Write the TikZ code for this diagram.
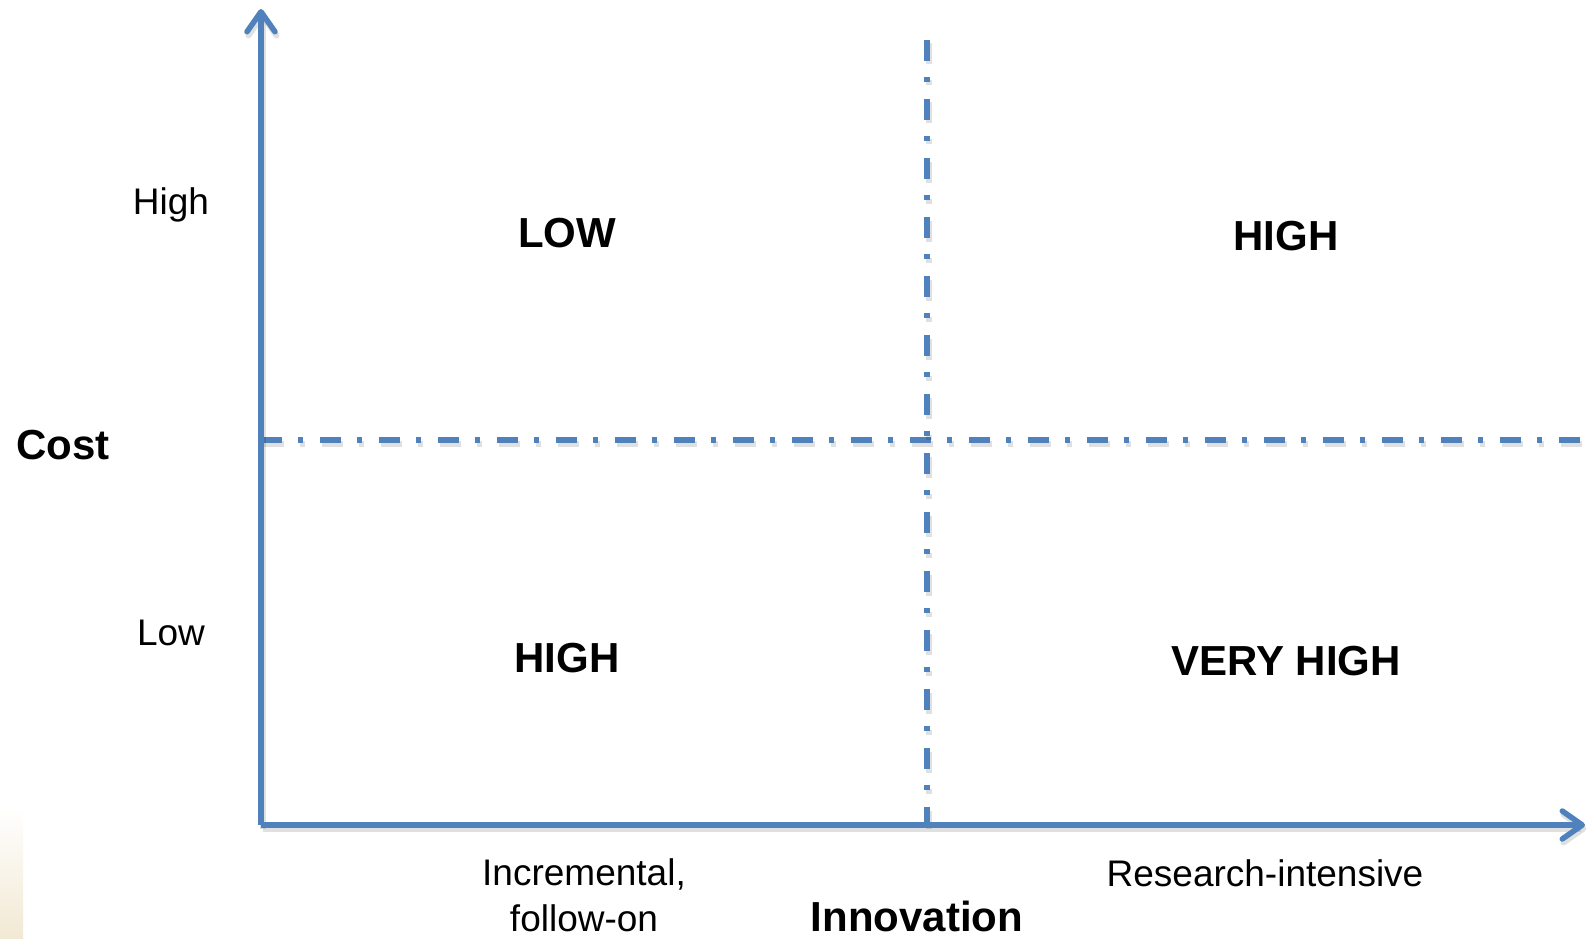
\documentclass[tikz,border=0pt]{standalone}
\usepackage{fontspec}
\setmainfont{Liberation Sans}
\usetikzlibrary{arrows.meta}
\definecolor{axisblue}{RGB}{79,129,189}
\definecolor{beige}{RGB}{242,233,212}
\tikzset{
  dashdot/.style={dash pattern=on 21pt off 16pt on 5pt off 17pt},
  shadowed/.style={preaction={draw=black,opacity=0.12,line width=6pt,transform canvas={shift={(1.5pt,-3.5pt)}}}},
  dshadowed/.style={preaction={draw=black,opacity=0.12,line width=6pt,dashdot,transform canvas={shift={(1.5pt,-3.5pt)}}}},
  axisline/.style={draw=axisblue,line width=5.5pt,shadowed},
  divline/.style={draw=axisblue,line width=5.5pt,dashdot,dshadowed},
  tip/.style={-{Straight Barb[length=20pt,width=28pt,round]}},
  lab/.style={inner sep=0pt,anchor=base,font=\fontsize{37}{44}\selectfont},
  boldlab/.style={inner sep=0pt,anchor=base,font=\fontsize{42}{48}\selectfont\bfseries},
}
\begin{document}
\begin{tikzpicture}[x=1pt,y=-1pt]
\useasboundingbox (0,0) rectangle (1587,939);
\fill[white] (0,0) rectangle (1587,939);
\shade[top color=white,bottom color=beige] (0,805) rectangle (23,939);
% key points
\coordinate (O) at (261,825);
\coordinate (Ytop) at (261,9);
\coordinate (Xend) at (1585,825);
\coordinate (Htop) at (927,40);
\coordinate (Hbot) at (927,825);
\coordinate (Vleft) at (261,440);
\coordinate (Vright) at (1587,440);
% dividers
\draw[divline] (Vleft) -- (Vright);
\draw[divline] (Htop) -- (Hbot);
% axes
\draw[axisline,tip] (O) -- (Ytop);
\draw[axisline,tip] (O) -- (Xend);
% labels
\node[lab] (high) at (171,214) {High};
\node[lab] (low) at (171,645) {Low};
\node[boldlab] (cost) at (63,459) {Cost};
\node[boldlab] (q1) at (567,247) {LOW};
\node[boldlab] (q2) at (1286,250) {HIGH};
\node[boldlab] (q3) at (567,672) {HIGH};
\node[boldlab] (q4) at (1286,675) {VERY HIGH};
\node[lab] (inc1) at (584,885) {Incremental,};
\node[lab] (inc2) at (584,931) {follow-on};
\node[boldlab] (innov) at (917,931) {Innovation};
\node[lab] (res) at (1265,886) {Research-intensive};
\end{tikzpicture}
\end{document}
